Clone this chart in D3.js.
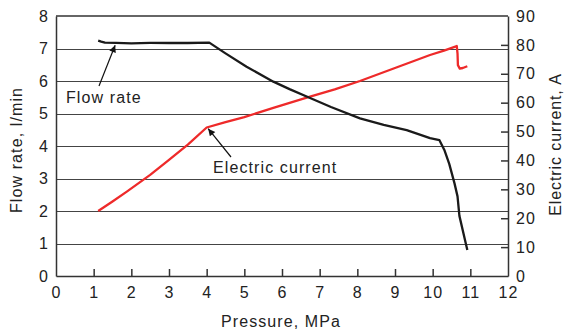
<!DOCTYPE html>
<meta charset="utf-8">
<style>
body { margin: 0; background: #fff; }
text { font-family: "Liberation Sans", Arial, sans-serif; fill: #222; letter-spacing: 1.1px; }
.grid line { stroke: #444; stroke-width: 1px; }
.axis path, .axis line { stroke: #333; stroke-width: 1.5px; }
.axis text { font-size: 16px; }
</style>
<body>
<script src="https://d3js.org/d3.v7.min.js"></script>
<script>
// black curve: flow rate (l/min) vs pressure (MPa)
var flowP = [1.12, 1.2, 1.3, 1.6, 2.0, 2.5, 3.0, 3.5, 4.07, 4.5, 5.06, 5.77, 6.2, 6.7, 7.3, 8.07, 8.7, 9.31, 9.93, 10.18, 10.31, 10.44, 10.58, 10.66, 10.71, 10.88, 10.92];
var flowQ = [7.24, 7.21, 7.18, 7.17, 7.16, 7.17, 7.17, 7.17, 7.18, 6.85, 6.44, 5.98, 5.75, 5.50, 5.20, 4.85, 4.65, 4.49, 4.24, 4.18, 3.88, 3.45, 2.85, 2.45, 1.85, 1.0, 0.8];

// red curve: electric current (A) vs pressure (MPa)
var currP = [1.12, 1.5, 1.88, 2.5, 3.0, 3.5, 4.0, 4.5, 5.0, 5.77, 6.7, 7.4, 8.07, 9.0, 9.93, 10.3, 10.64, 10.66, 10.67, 10.72, 10.8, 10.92];
var currI = [22.5, 25.8, 29.2, 35.0, 40.2, 45.5, 51.4, 53.3, 55.0, 58.2, 61.9, 64.6, 67.5, 72.0, 76.5, 78.0, 79.6, 77.0, 73.0, 71.8, 72.0, 72.6];

var xTicks = [0, 1, 2, 3, 4, 5, 6, 7, 8, 9, 10, 11, 12];
var yTicks = [0, 1, 2, 3, 4, 5, 6, 7, 8];
var y2Ticks = [0, 10, 20, 30, 40, 50, 60, 70, 80, 90];

var margin = {top: 16, right: 57, bottom: 55, left: 56},
    width = 565 - margin.left - margin.right,
    height = 331 - margin.top - margin.bottom;

var svg = d3.select("body").append("svg")
    .attr("width", 565)
    .attr("height", 331)
  .append("g")
    .attr("transform", "translate(" + margin.left + "," + margin.top + ")");

var x = d3.scaleLinear().domain([0, 12]).range([0, width]);
var y = d3.scaleLinear().domain([0, 8]).range([height, 0]);
var y2 = d3.scaleLinear().domain([0, 90]).range([height, 0]);

// horizontal grid lines
svg.append("g")
    .attr("class", "grid")
  .selectAll("line")
    .data(yTicks.slice(1, -1))
  .enter().append("line")
    .attr("x1", 0).attr("x2", width)
    .attr("y1", function(d) { return Math.round(y(d)) + 0.5; })
    .attr("y2", function(d) { return Math.round(y(d)) + 0.5; });

// top border
svg.append("line")
    .attr("x1", 0).attr("x2", width)
    .attr("y1", 0).attr("y2", 0)
    .style("stroke", "#333").style("stroke-width", "1.5px");

// x axis, ticks pointing up
var xAxis = svg.append("g")
    .attr("class", "axis")
    .attr("transform", "translate(0," + height + ")")
    .call(d3.axisBottom(x).tickValues(xTicks).tickSizeInner(-7).tickSizeOuter(0).tickPadding(11));
xAxis.selectAll(".tick").filter(function(d) { return d === 0 || d === 12; }).select("line").remove();

// left axis, no ticks
var yAxis = svg.append("g")
    .attr("class", "axis")
    .call(d3.axisLeft(y).tickValues(yTicks).tickSize(0).tickPadding(7));

// right axis, ticks pointing inside
var y2Axis = svg.append("g")
    .attr("class", "axis")
    .attr("transform", "translate(" + width + ",0)")
    .call(d3.axisRight(y2).tickValues(y2Ticks).tickSizeInner(-7).tickSizeOuter(0).tickPadding(8));
y2Axis.selectAll(".tick").filter(function(d) { return d === 0 || d === 90; }).select("line").remove();

// curves
var flowLine = d3.line()
    .x(function(d, i) { return x(flowP[i]); })
    .y(function(d) { return y(d); });

var currLine = d3.line()
    .x(function(d, i) { return x(currP[i]); })
    .y(function(d) { return y2(d); });

svg.append("path")
    .datum(currI)
    .attr("d", currLine)
    .style("fill", "none")
    .style("stroke", "#ee2a2a")
    .style("stroke-width", "2.3px")
    .style("stroke-linejoin", "round");

svg.append("path")
    .datum(flowQ)
    .attr("d", flowLine)
    .style("fill", "none")
    .style("stroke", "#1a1a1a")
    .style("stroke-width", "2.3px")
    .style("stroke-linejoin", "round");

// annotations with arrows
svg.append("defs").append("marker")
    .attr("id", "arrow")
    .attr("viewBox", "0 0 10 10")
    .attr("refX", 10).attr("refY", 5)
    .attr("markerWidth", 11).attr("markerHeight", 7)
    .attr("markerUnits", "userSpaceOnUse")
    .attr("orient", "auto")
  .append("path")
    .attr("d", "M0,0 L10,5 L0,10 z")
    .style("fill", "#111");

function annotate(label, tx, ty, fx, fy, px, pv, scale) {
  svg.append("line")
      .attr("x1", fx).attr("y1", fy)
      .attr("x2", x(px)).attr("y2", scale(pv))
      .style("stroke", "#111").style("stroke-width", "1.2px")
      .attr("marker-end", "url(#arrow)");
  svg.append("text")
      .attr("x", tx).attr("y", ty)
      .style("font-size", "16px")
      .text(label);
}

annotate("Flow rate", 10, 87, 43, 70, 1.57, 7.1, y);
annotate("Electric current", 157, 157, 175, 141, 4.04, 51.0, y2);

// axis titles
svg.append("text")
    .attr("transform", "translate(" + (-34) + "," + (height / 2 + 4) + ")rotate(-90)")
    .attr("text-anchor", "middle")
    .style("font-size", "16px")
    .text("Flow rate, l/min");

svg.append("text")
    .attr("transform", "translate(" + (width + 53) + "," + (height / 2 - 1.5) + ")rotate(-90)")
    .attr("text-anchor", "middle")
    .style("font-size", "16px")
    .style("letter-spacing", "0.9px")
    .text("Electric current, A");

svg.append("text")
    .attr("x", width / 2 - 1)
    .attr("y", height + 51)
    .attr("text-anchor", "middle")
    .style("font-size", "16px")
    .text("Pressure, MPa");
</script>
</body>
